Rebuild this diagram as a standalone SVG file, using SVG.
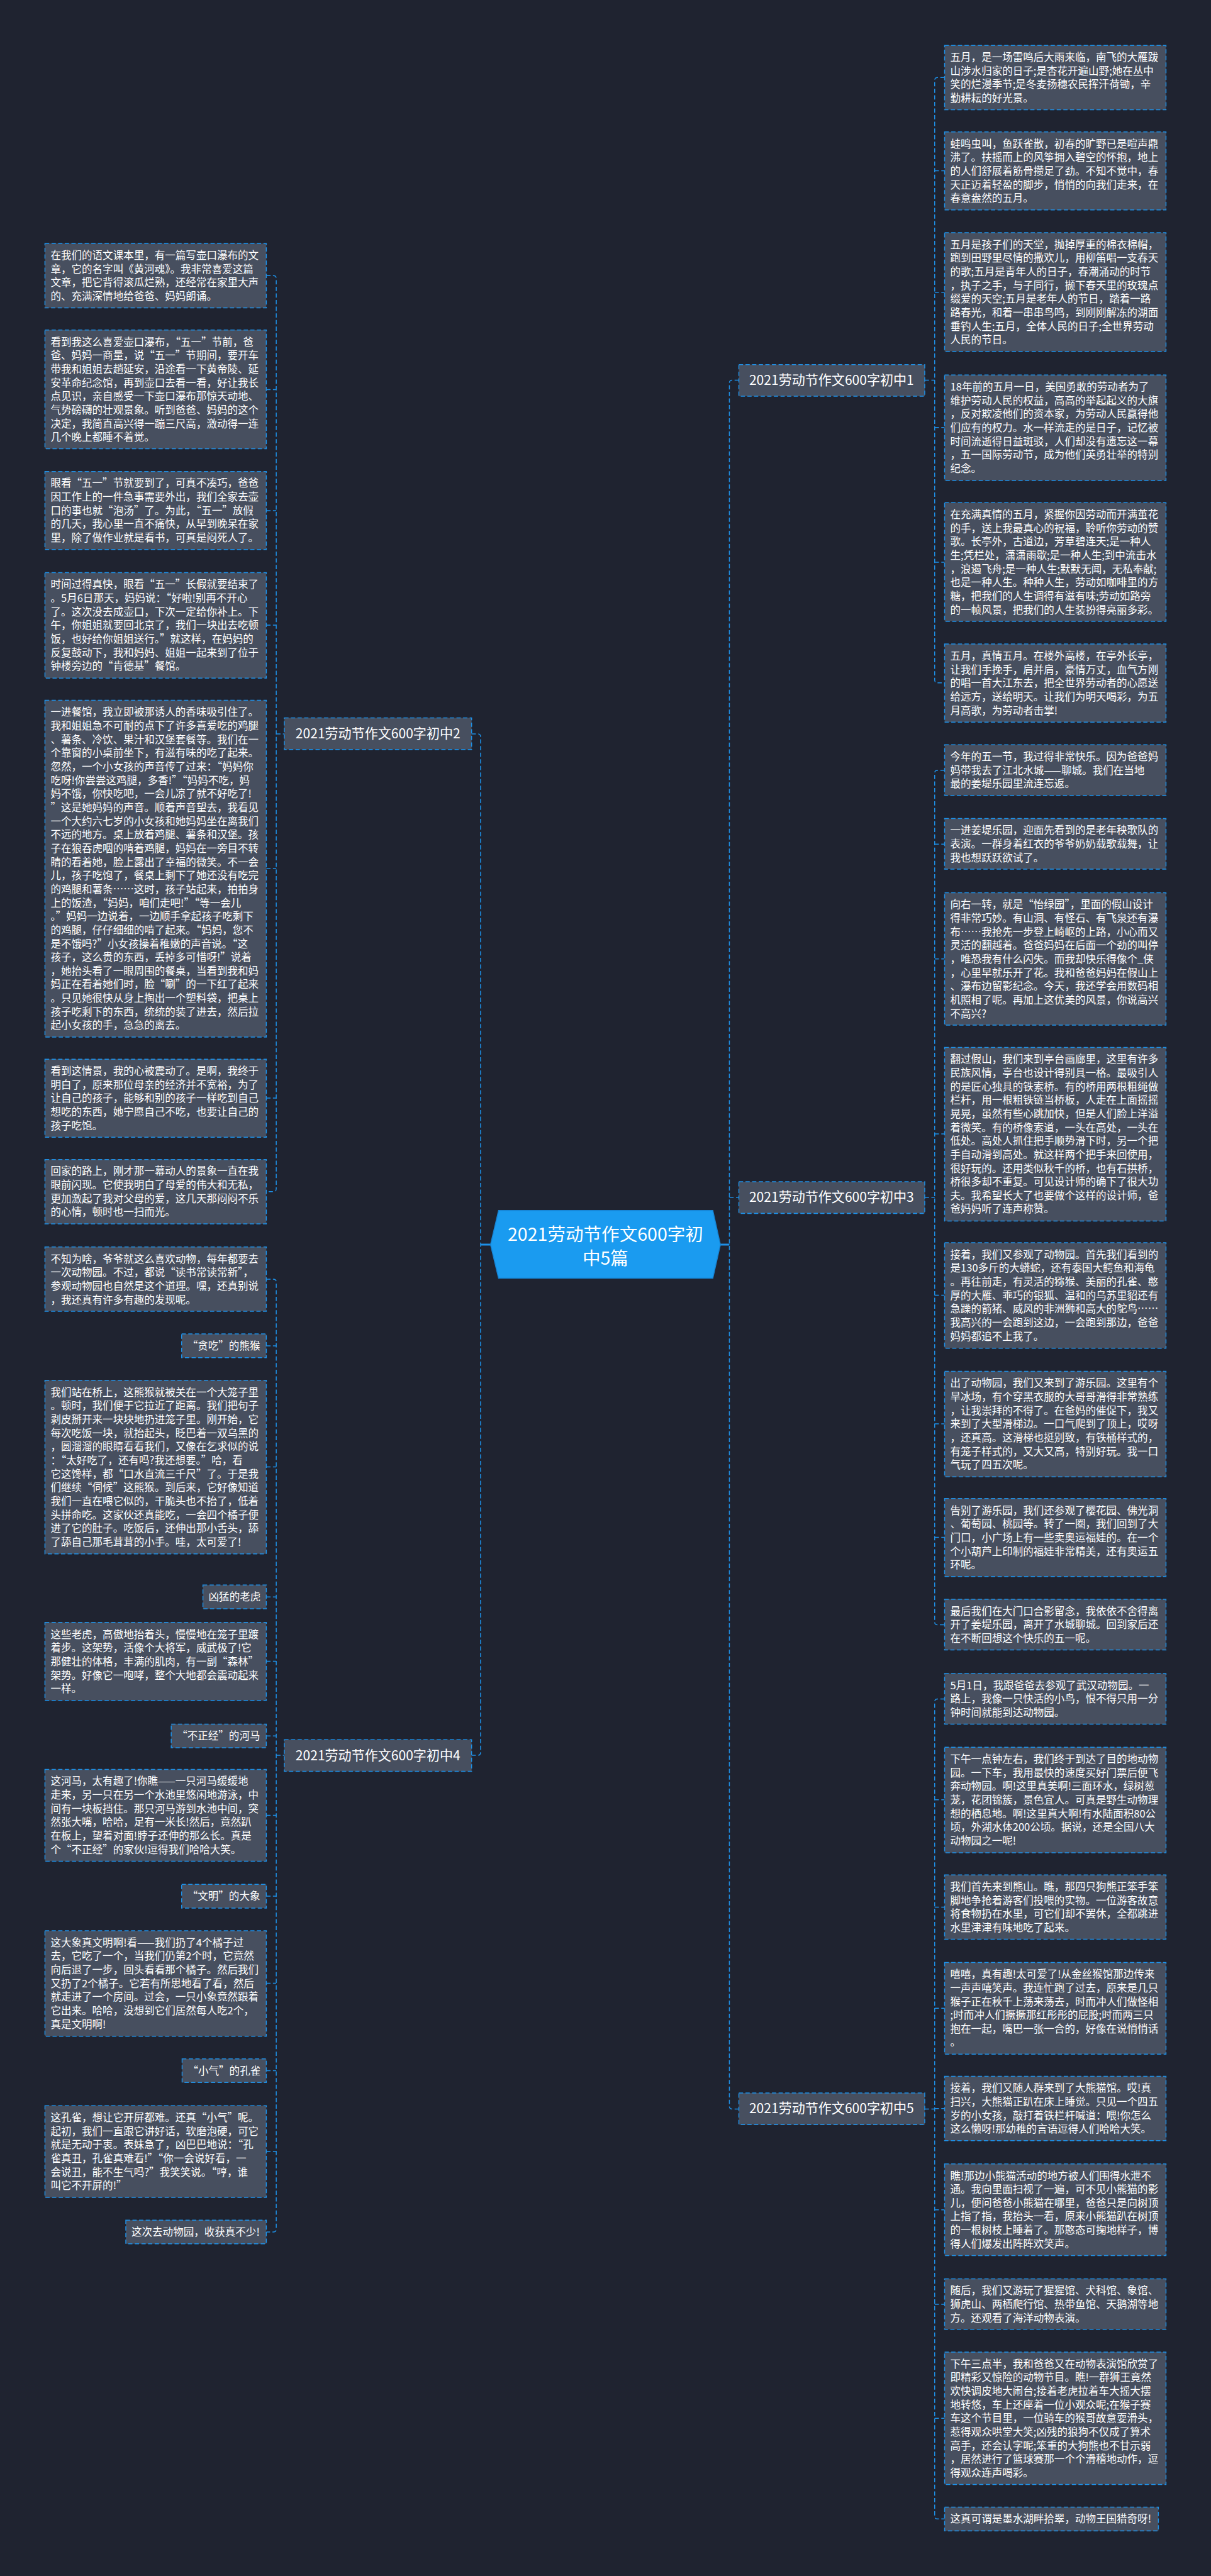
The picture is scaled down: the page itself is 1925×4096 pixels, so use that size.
<svg xmlns="http://www.w3.org/2000/svg" width="1925" height="4096" viewBox="0 0 1925 4096">
<style>
.box{fill:#474f5f;stroke:#1e90e6;stroke-width:2;stroke-dasharray:9 5}
.t{font-family:"Noto Sans CJK SC","Noto Sans",sans-serif;font-size:22px;fill:#ffffff}
.nt{font-family:"Noto Sans CJK SC","Noto Sans",sans-serif;font-size:28px;fill:#ffffff;text-anchor:middle}
.ct{font-family:"Noto Sans CJK SC","Noto Sans",sans-serif;font-size:38px;fill:#ffffff;text-anchor:middle}
.conn{fill:none;stroke:#1e90e6;stroke-width:2;stroke-dasharray:9 5}
.solid{fill:none;stroke:#1e90e6;stroke-width:4}
</style>
<rect x="0" y="0" width="1925" height="4096" fill="#1f2330"/>
<g transform="scale(0.7519)">
<g id="connectors">
<path class="solid" d="M1016,2632 H1037 M1523,2632 H1542"/>
<path class="conn" d="M997,1552 H1010 Q1016,1552 1016,1558 V3706 Q1016,3712 1010,3712 H997"/>
<path class="conn" d="M1562,804 H1548 Q1542,804 1542,810 V4454 Q1542,4460 1548,4460 H1562 M1542,2532 H1562"/>
<path class="conn" d="M563,583 H578 Q584,583 584,589 V2514 Q584,2520 578,2520 H563 M563,824 H584 M563,1080 H584 M563,1322 H584 M563,1837 H584 M563,2322 H584 M584,1552 H601"/>
<path class="conn" d="M563,2705 H578 Q584,2705 584,2711 V4714 Q584,4720 578,4720 H563 M563,2846 H584 M563,3102 H584 M563,3377 H584 M563,3513 H584 M563,3671 H584 M563,3839 H584 M563,4010 H584 M563,4194 H584 M563,4379 H584 M563,4550 H584 M584,3712 H601"/>
<path class="conn" d="M1997,164 H1982 Q1976,164 1976,170 V1438 Q1976,1444 1982,1444 H1997 M1976,361 H1997 M1976,618 H1997 M1976,904 H1997 M1976,1189 H1997 M1955,804 H1976"/>
<path class="conn" d="M1997,1629 H1982 Q1976,1629 1976,1635 V3430 Q1976,3436 1982,3436 H1997 M1976,1785 H1997 M1976,2028 H1997 M1976,2398 H1997 M1976,2739 H1997 M1976,3011 H1997 M1976,3251 H1997 M1955,2532 H1976"/>
<path class="conn" d="M1997,3593 H1982 Q1976,3593 1976,3599 V5321 Q1976,5327 1982,5327 H1997 M1976,3806 H1997 M1976,4033 H1997 M1976,4247 H1997 M1976,4459 H1997 M1976,4673 H1997 M1976,4873 H1997 M1976,5114 H1997 M1955,4460 H1976"/>
</g>
<g id="center">
<polygon points="1054,2560 1507,2560 1523,2632 1507,2703 1054,2703 1037,2632" fill="#1a9bf0" stroke="#1784d4" stroke-width="2"/>
<text class="ct" x="1280" y="2624">2021劳动节作文600字初</text>
<text class="ct" x="1280" y="2674">中5篇</text>
</g>
<g id="node1"><rect class="box" x="1562" y="771" width="393" height="67"/><text class="nt" x="1758" y="814">2021劳动节作文600字初中1</text></g>
<g id="node2"><rect class="box" x="601" y="1518" width="396" height="67"/><text class="nt" x="799" y="1561">2021劳动节作文600字初中2</text></g>
<g id="node3"><rect class="box" x="1562" y="2499" width="393" height="67"/><text class="nt" x="1758" y="2542">2021劳动节作文600字初中3</text></g>
<g id="node4"><rect class="box" x="601" y="3679" width="396" height="67"/><text class="nt" x="799" y="3722">2021劳动节作文600字初中4</text></g>
<g id="node5"><rect class="box" x="1562" y="4426" width="393" height="67"/><text class="nt" x="1758" y="4469">2021劳动节作文600字初中5</text></g>

<g id="b1"><rect class="box" x="95" y="515" width="468" height="136"/><text class="t" y="548"><tspan x="107">在我们的语文课本里，有一篇写壶口瀑布的文</tspan><tspan x="107" dy="28.8">章，它的名字叫《黄河魂》。我非常喜爱这篇</tspan><tspan x="107" dy="28.8">文章，把它背得滚瓜烂熟，还经常在家里大声</tspan><tspan x="107" dy="28.8">的、充满深情地给爸爸、妈妈朗诵。</tspan></text></g>
<g id="b2"><rect class="box" x="95" y="698" width="468" height="251"/><text class="t" y="731"><tspan x="107">看到我这么喜爱壶口瀑布，“五一”节前，爸</tspan><tspan x="107" dy="28.8">爸、妈妈一商量，说“五一”节期间，要开车</tspan><tspan x="107" dy="28.8">带我和姐姐去趟延安，沿途看一下黄帝陵、延</tspan><tspan x="107" dy="28.8">安革命纪念馆，再到壶口去看一看，好让我长</tspan><tspan x="107" dy="28.8">点见识，亲自感受一下壶口瀑布那惊天动地、</tspan><tspan x="107" dy="28.8">气势磅礴的壮观景象。听到爸爸、妈妈的这个</tspan><tspan x="107" dy="28.8">决定，我简直高兴得一蹦三尺高，激动得一连</tspan><tspan x="107" dy="28.8">几个晚上都睡不着觉。</tspan></text></g>
<g id="b3"><rect class="box" x="95" y="997" width="468" height="165"/><text class="t" y="1030"><tspan x="107">眼看“五一”节就要到了，可真不凑巧，爸爸</tspan><tspan x="107" dy="28.8">因工作上的一件急事需要外出，我们全家去壶</tspan><tspan x="107" dy="28.8">口的事也就“泡汤”了。为此，“五一”放假</tspan><tspan x="107" dy="28.8">的几天，我心里一直不痛快，从早到晚呆在家</tspan><tspan x="107" dy="28.8">里，除了做作业就是看书，可真是闷死人了。</tspan></text></g>
<g id="b4"><rect class="box" x="95" y="1211" width="468" height="223"/><text class="t" y="1244"><tspan x="107">时间过得真快，眼看“五一”长假就要结束了</tspan><tspan x="107" dy="28.8">。5月6日那天，妈妈说：“好啦!别再不开心</tspan><tspan x="107" dy="28.8">了。这次没去成壶口，下次一定给你补上。下</tspan><tspan x="107" dy="28.8">午，你姐姐就要回北京了，我们一块出去吃顿</tspan><tspan x="107" dy="28.8">饭，也好给你姐姐送行。”就这样，在妈妈的</tspan><tspan x="107" dy="28.8">反复鼓动下，我和妈妈、姐姐一起来到了位于</tspan><tspan x="107" dy="28.8">钟楼旁边的“肯德基”餐馆。</tspan></text></g>
<g id="b5"><rect class="box" x="95" y="1481" width="468" height="712"/><text class="t" y="1514"><tspan x="107">一进餐馆，我立即被那诱人的香味吸引住了。</tspan><tspan x="107" dy="28.8">我和姐姐急不可耐的点下了许多喜爱吃的鸡腿</tspan><tspan x="107" dy="28.8">、薯条、冷饮、果汁和汉堡套餐等。我们在一</tspan><tspan x="107" dy="28.8">个靠窗的小桌前坐下，有滋有味的吃了起来。</tspan><tspan x="107" dy="28.8">忽然，一个小女孩的声音传了过来：“妈妈你</tspan><tspan x="107" dy="28.8">吃呀!你尝尝这鸡腿，多香!”“妈妈不吃，妈</tspan><tspan x="107" dy="28.8">妈不饿，你快吃吧，一会儿凉了就不好吃了!</tspan><tspan x="107" dy="28.8">”这是她妈妈的声音。顺着声音望去，我看见</tspan><tspan x="107" dy="28.8">一个大约六七岁的小女孩和她妈妈坐在离我们</tspan><tspan x="107" dy="28.8">不远的地方。桌上放着鸡腿、薯条和汉堡。孩</tspan><tspan x="107" dy="28.8">子在狼吞虎咽的啃着鸡腿，妈妈在一旁目不转</tspan><tspan x="107" dy="28.8">睛的看着她，脸上露出了幸福的微笑。不一会</tspan><tspan x="107" dy="28.8">儿，孩子吃饱了，餐桌上剩下了她还没有吃完</tspan><tspan x="107" dy="28.8">的鸡腿和薯条……这时，孩子站起来，拍拍身</tspan><tspan x="107" dy="28.8">上的饭渣，“妈妈，咱们走吧!”“等一会儿</tspan><tspan x="107" dy="28.8">。”妈妈一边说着，一边顺手拿起孩子吃剩下</tspan><tspan x="107" dy="28.8">的鸡腿，仔仔细细的啃了起来。“妈妈，您不</tspan><tspan x="107" dy="28.8">是不饿吗?”小女孩操着稚嫩的声音说。“这</tspan><tspan x="107" dy="28.8">孩子，这么贵的东西，丢掉多可惜呀!”说着</tspan><tspan x="107" dy="28.8">，她抬头看了一眼周围的餐桌，当看到我和妈</tspan><tspan x="107" dy="28.8">妈正在看着她们时，脸“唰”的一下红了起来</tspan><tspan x="107" dy="28.8">。只见她很快从身上掏出一个塑料袋，把桌上</tspan><tspan x="107" dy="28.8">孩子吃剩下的东西，统统的装了进去，然后拉</tspan><tspan x="107" dy="28.8">起小女孩的手，急急的离去。</tspan></text></g>
<g id="b6"><rect class="box" x="95" y="2240" width="468" height="165"/><text class="t" y="2273"><tspan x="107">看到这情景，我的心被震动了。是啊，我终于</tspan><tspan x="107" dy="28.8">明白了，原来那位母亲的经济并不宽裕，为了</tspan><tspan x="107" dy="28.8">让自己的孩子，能够和别的孩子一样吃到自己</tspan><tspan x="107" dy="28.8">想吃的东西，她宁愿自己不吃，也要让自己的</tspan><tspan x="107" dy="28.8">孩子吃饱。</tspan></text></g>
<g id="b7"><rect class="box" x="95" y="2452" width="468" height="136"/><text class="t" y="2485"><tspan x="107">回家的路上，刚才那一幕动人的景象一直在我</tspan><tspan x="107" dy="28.8">眼前闪现。它使我明白了母爱的伟大和无私，</tspan><tspan x="107" dy="28.8">更加激起了我对父母的爱，这几天那闷闷不乐</tspan><tspan x="107" dy="28.8">的心情，顿时也一扫而光。</tspan></text></g>

<g id="b8"><rect class="box" x="95" y="2637" width="468" height="136"/><text class="t" y="2670"><tspan x="107">不知为啥，爷爷就这么喜欢动物，每年都要去</tspan><tspan x="107" dy="28.8">一次动物园。不过，都说“读书常读常新”，</tspan><tspan x="107" dy="28.8">参观动物园也自然是这个道理。嘿，还真别说</tspan><tspan x="107" dy="28.8">，我还真有许多有趣的发现呢。</tspan></text></g>
<g id="l1"><rect class="box" x="384" y="2821" width="179" height="50"/><text class="t" x="396" y="2854">“贪吃”的熊猴</text></g>
<g id="b9"><rect class="box" x="95" y="2919" width="468" height="367"/><text class="t" y="2952"><tspan x="107">我们站在桥上，这熊猴就被关在一个大笼子里</tspan><tspan x="107" dy="28.8">。顿时，我们便于它拉近了距离。我们把句子</tspan><tspan x="107" dy="28.8">剥皮掰开来一块块地扔进笼子里。刚开始，它</tspan><tspan x="107" dy="28.8">每次吃饭一块，就抬起头，眨巴着一双乌黑的</tspan><tspan x="107" dy="28.8">，圆溜溜的眼睛看看我们，又像在乞求似的说</tspan><tspan x="107" dy="28.8">：“太好吃了，还有吗?我还想要。”哈，看</tspan><tspan x="107" dy="28.8">它这馋样，都“口水直流三千尺”了。于是我</tspan><tspan x="107" dy="28.8">们继续“伺候”这熊猴。到后来，它好像知道</tspan><tspan x="107" dy="28.8">我们一直在喂它似的，干脆头也不抬了，低着</tspan><tspan x="107" dy="28.8">头拼命吃。这家伙还真能吃，一会四个橘子便</tspan><tspan x="107" dy="28.8">进了它的肚子。吃饭后，还伸出那小舌头，舔</tspan><tspan x="107" dy="28.8">了舔自己那毛茸茸的小手。哇，太可爱了!</tspan></text></g>
<g id="l2"><rect class="box" x="429" y="3352" width="134" height="50"/><text class="t" x="441" y="3385">凶猛的老虎</text></g>
<g id="b10"><rect class="box" x="95" y="3431" width="468" height="165"/><text class="t" y="3464"><tspan x="107">这些老虎，高傲地抬着头，慢慢地在笼子里踱</tspan><tspan x="107" dy="28.8">着步。这架势，活像个大将军，威武极了!它</tspan><tspan x="107" dy="28.8">那健壮的体格，丰满的肌肉，有一副“森林”</tspan><tspan x="107" dy="28.8">架势。好像它一咆哮，整个大地都会震动起来</tspan><tspan x="107" dy="28.8">一样。</tspan></text></g>
<g id="l3"><rect class="box" x="362" y="3646" width="201" height="50"/><text class="t" x="374" y="3679">“不正经”的河马</text></g>
<g id="b11"><rect class="box" x="95" y="3742" width="468" height="194"/><text class="t" y="3775"><tspan x="107">这河马，太有趣了!你瞧——一只河马缓缓地</tspan><tspan x="107" dy="28.8">走来，另一只在另一个水池里悠闲地游泳，中</tspan><tspan x="107" dy="28.8">间有一块板挡住。那只河马游到水池中间，突</tspan><tspan x="107" dy="28.8">然张大嘴，哈哈，足有一米长!然后，竟然趴</tspan><tspan x="107" dy="28.8">在板上，望着对面!脖子还伸的那么长。真是</tspan><tspan x="107" dy="28.8">个“不正经”的家伙!逗得我们哈哈大笑。</tspan></text></g>
<g id="l4"><rect class="box" x="384" y="3985" width="179" height="50"/><text class="t" x="396" y="4018">“文明”的大象</text></g>
<g id="b12"><rect class="box" x="95" y="4083" width="468" height="223"/><text class="t" y="4116"><tspan x="107">这大象真文明啊!看——我们扔了4个橘子过</tspan><tspan x="107" dy="28.8">去，它吃了一个，当我们仍第2个时，它竟然</tspan><tspan x="107" dy="28.8">向后退了一步，回头看看那个橘子。然后我们</tspan><tspan x="107" dy="28.8">又扔了2个橘子。它若有所思地看了看，然后</tspan><tspan x="107" dy="28.8">就走进了一个房间。过会，一只小象竟然跟着</tspan><tspan x="107" dy="28.8">它出来。哈哈，没想到它们居然每人吃2个，</tspan><tspan x="107" dy="28.8">真是文明啊!</tspan></text></g>
<g id="l5"><rect class="box" x="385" y="4354" width="178" height="50"/><text class="t" x="397" y="4387">“小气”的孔雀</text></g>
<g id="b13"><rect class="box" x="95" y="4453" width="468" height="194"/><text class="t" y="4486"><tspan x="107">这孔雀，想让它开屏都难。还真“小气”呢。</tspan><tspan x="107" dy="28.8">起初，我们一直跟它讲好话，软磨泡硬，可它</tspan><tspan x="107" dy="28.8">就是无动于衷。表妹急了，凶巴巴地说：“孔</tspan><tspan x="107" dy="28.8">雀真丑，孔雀真难看!”“你一会说好看，一</tspan><tspan x="107" dy="28.8">会说丑，能不生气吗?”我笑笑说。“哼，谁</tspan><tspan x="107" dy="28.8">叫它不开屏的!”</tspan></text></g>
<g id="l6"><rect class="box" x="266" y="4695" width="297" height="50"/><text class="t" x="278" y="4728">这次去动物园，收获真不少!</text></g>

<g id="r1"><rect class="box" x="1997" y="96" width="468" height="136"/><text class="t" y="129"><tspan x="2009">五月，是一场雷鸣后大雨来临，南飞的大雁跋</tspan><tspan x="2009" dy="28.8">山涉水归家的日子;是杏花开遍山野;她在丛中</tspan><tspan x="2009" dy="28.8">笑的烂漫季节;是冬麦扬穗农民挥汗荷锄，辛</tspan><tspan x="2009" dy="28.8">勤耕耘的好光景。</tspan></text></g>
<g id="r2"><rect class="box" x="1997" y="279" width="468" height="165"/><text class="t" y="312"><tspan x="2009">蛙鸣虫叫，鱼跃雀散，初春的旷野已是喧声鼎</tspan><tspan x="2009" dy="28.8">沸了。扶摇而上的风筝拥入碧空的怀抱，地上</tspan><tspan x="2009" dy="28.8">的人们舒展着筋骨攒足了劲。不知不觉中，春</tspan><tspan x="2009" dy="28.8">天正迈着轻盈的脚步，悄悄的向我们走来，在</tspan><tspan x="2009" dy="28.8">春意盎然的五月。</tspan></text></g>
<g id="r3"><rect class="box" x="1997" y="492" width="468" height="251"/><text class="t" y="525"><tspan x="2009">五月是孩子们的天堂，抛掉厚重的棉衣棉帽，</tspan><tspan x="2009" dy="28.8">跑到田野里尽情的撒欢儿，用柳笛唱一支春天</tspan><tspan x="2009" dy="28.8">的歌;五月是青年人的日子，春潮涌动的时节</tspan><tspan x="2009" dy="28.8">，执子之手，与子同行，撷下春天里的玫瑰点</tspan><tspan x="2009" dy="28.8">缀爱的天空;五月是老年人的节日，踏着一路</tspan><tspan x="2009" dy="28.8">路春光，和着一串串鸟鸣，到刚刚解冻的湖面</tspan><tspan x="2009" dy="28.8">垂钓人生;五月，全体人民的日子;全世界劳动</tspan><tspan x="2009" dy="28.8">人民的节日。</tspan></text></g>
<g id="r4"><rect class="box" x="1997" y="793" width="468" height="223"/><text class="t" y="826"><tspan x="2009">18年前的五月一日，美国勇敢的劳动者为了</tspan><tspan x="2009" dy="28.8">维护劳动人民的权益，高高的举起起义的大旗</tspan><tspan x="2009" dy="28.8">，反对欺凌他们的资本家，为劳动人民赢得他</tspan><tspan x="2009" dy="28.8">们应有的权力。水一样流走的是日子，记忆被</tspan><tspan x="2009" dy="28.8">时间流逝得日益斑驳，人们却没有遗忘这一幕</tspan><tspan x="2009" dy="28.8">，五一国际劳动节，成为他们英勇壮举的特别</tspan><tspan x="2009" dy="28.8">纪念。</tspan></text></g>
<g id="r5"><rect class="box" x="1997" y="1063" width="468" height="251"/><text class="t" y="1096"><tspan x="2009">在充满真情的五月，紧握你因劳动而开满茧花</tspan><tspan x="2009" dy="28.8">的手，送上我最真心的祝福，聆听你劳动的赞</tspan><tspan x="2009" dy="28.8">歌。长亭外，古道边，芳草碧连天;是一种人</tspan><tspan x="2009" dy="28.8">生;凭栏处，潇潇雨歇;是一种人生;到中流击水</tspan><tspan x="2009" dy="28.8">，浪遏飞舟;是一种人生;默默无闻，无私奉献;</tspan><tspan x="2009" dy="28.8">也是一种人生。种种人生，劳动如咖啡里的方</tspan><tspan x="2009" dy="28.8">糖，把我们的人生调得有滋有味;劳动如路旁</tspan><tspan x="2009" dy="28.8">的一帧风景，把我们的人生装扮得亮丽多彩。</tspan></text></g>
<g id="r6"><rect class="box" x="1997" y="1362" width="468" height="165"/><text class="t" y="1395"><tspan x="2009">五月，真情五月。在楼外高楼，在亭外长亭，</tspan><tspan x="2009" dy="28.8">让我们手挽手，肩并肩，豪情万丈，血气方刚</tspan><tspan x="2009" dy="28.8">的唱一首大江东去，把全世界劳动者的心愿送</tspan><tspan x="2009" dy="28.8">给远方，送给明天。让我们为明天喝彩，为五</tspan><tspan x="2009" dy="28.8">月高歌，为劳动者击掌!</tspan></text></g>

<g id="r7"><rect class="box" x="1997" y="1575" width="468" height="107"/><text class="t" y="1608"><tspan x="2009">今年的五一节，我过得非常快乐。因为爸爸妈</tspan><tspan x="2009" dy="28.8">妈带我去了江北水城——聊城。我们在当地</tspan><tspan x="2009" dy="28.8">最的姜堤乐园里流连忘返。</tspan></text></g>
<g id="r8"><rect class="box" x="1997" y="1731" width="468" height="107"/><text class="t" y="1764"><tspan x="2009">一进姜堤乐园，迎面先看到的是老年秧歌队的</tspan><tspan x="2009" dy="28.8">表演。一群身着红衣的爷爷奶奶载歌载舞，让</tspan><tspan x="2009" dy="28.8">我也想跃跃欲试了。</tspan></text></g>
<g id="r9"><rect class="box" x="1997" y="1888" width="468" height="280"/><text class="t" y="1921"><tspan x="2009">向右一转，就是“怡绿园”，里面的假山设计</tspan><tspan x="2009" dy="28.8">得非常巧妙。有山洞、有怪石、有飞泉还有瀑</tspan><tspan x="2009" dy="28.8">布……我抢先一步登上崎岖的上路，小心而又</tspan><tspan x="2009" dy="28.8">灵活的翻越着。爸爸妈妈在后面一个劲的叫停</tspan><tspan x="2009" dy="28.8">，唯恐我有什么闪失。而我却快乐得像个_侠</tspan><tspan x="2009" dy="28.8">，心里早就乐开了花。我和爸爸妈妈在假山上</tspan><tspan x="2009" dy="28.8">、瀑布边留影纪念。今天，我还学会用数码相</tspan><tspan x="2009" dy="28.8">机照相了呢。再加上这优美的风景，你说高兴</tspan><tspan x="2009" dy="28.8">不高兴?</tspan></text></g>
<g id="r10"><rect class="box" x="1997" y="2215" width="468" height="367"/><text class="t" y="2248"><tspan x="2009">翻过假山，我们来到亭台画廊里，这里有许多</tspan><tspan x="2009" dy="28.8">民族风情，亭台也设计得别具一格。最吸引人</tspan><tspan x="2009" dy="28.8">的是匠心独具的铁索桥。有的桥用两根粗绳做</tspan><tspan x="2009" dy="28.8">栏杆，用一根粗铁链当桥板，人走在上面摇摇</tspan><tspan x="2009" dy="28.8">晃晃，虽然有些心跳加快，但是人们脸上洋溢</tspan><tspan x="2009" dy="28.8">着微笑。有的桥像索道，一头在高处，一头在</tspan><tspan x="2009" dy="28.8">低处。高处人抓住把手顺势滑下时，另一个把</tspan><tspan x="2009" dy="28.8">手自动滑到高处。就这样两个把手来回使用，</tspan><tspan x="2009" dy="28.8">很好玩的。还用类似秋千的桥，也有石拱桥，</tspan><tspan x="2009" dy="28.8">桥很多却不重复。可见设计师的确下了很大功</tspan><tspan x="2009" dy="28.8">夫。我希望长大了也要做个这样的设计师，爸</tspan><tspan x="2009" dy="28.8">爸妈妈听了连声称赞。</tspan></text></g>
<g id="r11"><rect class="box" x="1997" y="2628" width="468" height="223"/><text class="t" y="2661"><tspan x="2009">接着，我们又参观了动物园。首先我们看到的</tspan><tspan x="2009" dy="28.8">是130多斤的大蟒蛇，还有泰国大鳄鱼和海龟</tspan><tspan x="2009" dy="28.8">。再往前走，有灵活的猕猴、美丽的孔雀、憨</tspan><tspan x="2009" dy="28.8">厚的大雁、乖巧的银狐、温和的乌苏里貂还有</tspan><tspan x="2009" dy="28.8">急躁的箭猪、威风的非洲狮和高大的鸵鸟……</tspan><tspan x="2009" dy="28.8">我高兴的一会跑到这边，一会跑到那边，爸爸</tspan><tspan x="2009" dy="28.8">妈妈都追不上我了。</tspan></text></g>
<g id="r12"><rect class="box" x="1997" y="2900" width="468" height="223"/><text class="t" y="2933"><tspan x="2009">出了动物园，我们又来到了游乐园。这里有个</tspan><tspan x="2009" dy="28.8">旱冰场，有个穿黑衣服的大哥哥滑得非常熟练</tspan><tspan x="2009" dy="28.8">，让我崇拜的不得了。在爸妈的催促下，我又</tspan><tspan x="2009" dy="28.8">来到了大型滑梯边。一口气爬到了顶上，哎呀</tspan><tspan x="2009" dy="28.8">，还真高。这滑梯也挺别致，有铁桶样式的，</tspan><tspan x="2009" dy="28.8">有笼子样式的，又大又高，特别好玩。我一口</tspan><tspan x="2009" dy="28.8">气玩了四五次呢。</tspan></text></g>
<g id="r13"><rect class="box" x="1997" y="3169" width="468" height="165"/><text class="t" y="3202"><tspan x="2009">告别了游乐园，我们还参观了樱花园、佛光洞</tspan><tspan x="2009" dy="28.8">、葡萄园、桃园等。转了一圈，我们回到了大</tspan><tspan x="2009" dy="28.8">门口，小广场上有一些卖奥运福娃的。在一个</tspan><tspan x="2009" dy="28.8">个小葫芦上印制的福娃非常精美，还有奥运五</tspan><tspan x="2009" dy="28.8">环呢。</tspan></text></g>
<g id="r14"><rect class="box" x="1997" y="3382" width="468" height="107"/><text class="t" y="3415"><tspan x="2009">最后我们在大门口合影留念，我依依不舍得离</tspan><tspan x="2009" dy="28.8">开了姜堤乐园，离开了水城聊城。回到家后还</tspan><tspan x="2009" dy="28.8">在不断回想这个快乐的五一呢。</tspan></text></g>

<g id="r15"><rect class="box" x="1997" y="3539" width="468" height="107"/><text class="t" y="3572"><tspan x="2009">5月1日，我跟爸爸去参观了武汉动物园。一</tspan><tspan x="2009" dy="28.8">路上，我像一只快活的小鸟，恨不得只用一分</tspan><tspan x="2009" dy="28.8">钟时间就能到达动物园。</tspan></text></g>
<g id="r16"><rect class="box" x="1997" y="3695" width="468" height="223"/><text class="t" y="3728"><tspan x="2009">下午一点钟左右，我们终于到达了目的地动物</tspan><tspan x="2009" dy="28.8">园。一下车，我用最快的速度买好门票后便飞</tspan><tspan x="2009" dy="28.8">奔动物园。啊!这里真美啊!三面环水，绿树葱</tspan><tspan x="2009" dy="28.8">茏，花团锦簇，景色宜人。可真是野生动物理</tspan><tspan x="2009" dy="28.8">想的栖息地。啊!这里真大啊!有水陆面积80公</tspan><tspan x="2009" dy="28.8">顷，外湖水体200公顷。据说，还是全国八大</tspan><tspan x="2009" dy="28.8">动物园之一呢!</tspan></text></g>
<g id="r17"><rect class="box" x="1997" y="3965" width="468" height="136"/><text class="t" y="3998"><tspan x="2009">我们首先来到熊山。瞧，那四只狗熊正笨手笨</tspan><tspan x="2009" dy="28.8">脚地争抢着游客们投喂的实物。一位游客故意</tspan><tspan x="2009" dy="28.8">将食物扔在水里，可它们却不罢休，全都跳进</tspan><tspan x="2009" dy="28.8">水里津津有味地吃了起来。</tspan></text></g>
<g id="r18"><rect class="box" x="1997" y="4150" width="468" height="194"/><text class="t" y="4183"><tspan x="2009">嘻嘻，真有趣!太可爱了!从金丝猴馆那边传来</tspan><tspan x="2009" dy="28.8">一声声嘻笑声。我连忙跑了过去，原来是几只</tspan><tspan x="2009" dy="28.8">猴子正在秋千上荡来荡去，时而冲人们做怪相</tspan><tspan x="2009" dy="28.8">;时而冲人们撅撅那红彤彤的屁股;时而两三只</tspan><tspan x="2009" dy="28.8">抱在一起，嘴巴一张一合的，好像在说悄悄话</tspan><tspan x="2009" dy="28.8">。</tspan></text></g>
<g id="r19"><rect class="box" x="1997" y="4391" width="468" height="136"/><text class="t" y="4424"><tspan x="2009">接着，我们又随人群来到了大熊猫馆。哎!真</tspan><tspan x="2009" dy="28.8">扫兴，大熊猫正趴在床上睡觉。只见一个四五</tspan><tspan x="2009" dy="28.8">岁的小女孩，敲打着铁栏杆喊道：喂!你怎么</tspan><tspan x="2009" dy="28.8">这么懒呀!那幼稚的言语逗得人们哈哈大笑。</tspan></text></g>
<g id="r20"><rect class="box" x="1997" y="4576" width="468" height="194"/><text class="t" y="4609"><tspan x="2009">瞧!那边小熊猫活动的地方被人们围得水泄不</tspan><tspan x="2009" dy="28.8">通。我向里面扫视了一遍，可不见小熊猫的影</tspan><tspan x="2009" dy="28.8">儿，便问爸爸小熊猫在哪里，爸爸只是向树顶</tspan><tspan x="2009" dy="28.8">上指了指，我抬头一看，原来小熊猫趴在树顶</tspan><tspan x="2009" dy="28.8">的一根树枝上睡着了。那憨态可掬地样子，博</tspan><tspan x="2009" dy="28.8">得人们爆发出阵阵欢笑声。</tspan></text></g>
<g id="r21"><rect class="box" x="1997" y="4819" width="468" height="107"/><text class="t" y="4852"><tspan x="2009">随后，我们又游玩了猩猩馆、犬科馆、象馆、</tspan><tspan x="2009" dy="28.8">狮虎山、两栖爬行馆、热带鱼馆、天鹅湖等地</tspan><tspan x="2009" dy="28.8">方。还观看了海洋动物表演。</tspan></text></g>
<g id="r22"><rect class="box" x="1997" y="4974" width="468" height="280"/><text class="t" y="5007"><tspan x="2009">下午三点半，我和爸爸又在动物表演馆欣赏了</tspan><tspan x="2009" dy="28.8">即精彩又惊险的动物节目。瞧!一群狮王竟然</tspan><tspan x="2009" dy="28.8">欢快调皮地大闹台;接着老虎拉着车大摇大摆</tspan><tspan x="2009" dy="28.8">地转悠，车上还座着一位小观众呢;在猴子赛</tspan><tspan x="2009" dy="28.8">车这个节目里，一位骑车的猴哥故意耍滑头，</tspan><tspan x="2009" dy="28.8">惹得观众哄堂大笑;凶残的狼狗不仅成了算术</tspan><tspan x="2009" dy="28.8">高手，还会认字呢;笨重的大狗熊也不甘示弱</tspan><tspan x="2009" dy="28.8">，居然进行了篮球赛那一个个滑稽地动作，逗</tspan><tspan x="2009" dy="28.8">得观众连声喝彩。</tspan></text></g>
<g id="r23"><rect class="box" x="1997" y="5302" width="452" height="50"/><text class="t" x="2009" y="5335">这真可谓是墨水湖畔拾翠，动物王国猎奇呀!</text></g>
</g>
</svg>
